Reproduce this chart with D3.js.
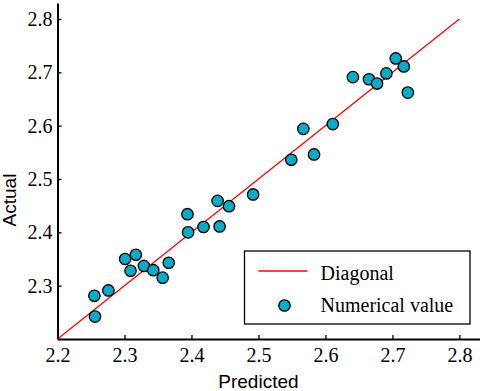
<!DOCTYPE html>
<html>
<head>
<meta charset="utf-8">
<script src="https://cdn.jsdelivr.net/npm/d3@7"></script>
<style>
  body { margin: 0; background: #fff; }
  svg { display: block; }
</style>
</head>
<body>
<svg id="chart"></svg>
<script>
// predicted vs actual
const predicted = [
  2.255, 2.256, 2.276, 2.301, 2.309, 2.317, 2.329, 2.343, 2.357, 2.366,
  2.394, 2.395, 2.418, 2.439, 2.442, 2.456,
  2.492, 2.549, 2.567, 2.583, 2.611, 2.641, 2.665, 2.677, 2.691, 2.705, 2.717, 2.723
];
const actual = [
  2.281, 2.242, 2.291, 2.350, 2.328, 2.358, 2.337, 2.329, 2.315, 2.343,
  2.434, 2.400, 2.410, 2.459, 2.411, 2.449,
  2.471, 2.536, 2.594, 2.546, 2.603, 2.691, 2.687, 2.679, 2.698, 2.726, 2.711, 2.662
];
const diagonal = [2.2, 2.8];
const xTicks = [2.2, 2.3, 2.4, 2.5, 2.6, 2.7, 2.8];
const yTicks = [2.3, 2.4, 2.5, 2.6, 2.7, 2.8];
const legendItems = ["Diagonal", "Numerical value"];

const width = 484;
const height = 391;
const margin = { top: 3, right: 4.5, bottom: 52, left: 57.5 };
const pointColor = "#0aabc6";
const serif = "'Liberation Serif', 'Times New Roman', serif";
const sans = "'Liberation Sans', Arial, sans-serif";

const svg = d3.select("#chart")
  .attr("width", width)
  .attr("height", height);

const x = d3.scaleLinear()
  .domain([2.2, 2.83])
  .range([margin.left, width - margin.right]);

const y = d3.scaleLinear()
  .domain([2.2, 2.83])
  .range([height - margin.bottom, margin.top]);

// diagonal
svg.append("line")
  .attr("x1", x(diagonal[0]))
  .attr("y1", y(diagonal[0]))
  .attr("x2", x(diagonal[1]))
  .attr("y2", y(diagonal[1]))
  .attr("stroke", "#ff0000")
  .attr("stroke-width", 1.3);

// points
svg.append("g")
  .selectAll("circle")
  .data(predicted.map((p, i) => ({ p, a: actual[i] })))
  .join("circle")
  .attr("cx", d => x(d.p))
  .attr("cy", d => y(d.a))
  .attr("r", 5.7)
  .attr("fill", pointColor)
  .attr("stroke", "#000")
  .attr("stroke-width", 1.3);

// axes
const xAxisG = svg.append("g")
  .attr("transform", `translate(0,${height - margin.bottom})`)
  .call(d3.axisBottom(x).tickValues(xTicks).tickFormat(d3.format(".1f"))
    .tickSizeInner(-4).tickSizeOuter(0).tickPadding(9));

const yAxisG = svg.append("g")
  .attr("transform", `translate(${margin.left},0)`)
  .call(d3.axisLeft(y).tickValues(yTicks).tickFormat(d3.format(".1f"))
    .tickSizeInner(-4).tickSizeOuter(0).tickPadding(5));

[xAxisG, yAxisG].forEach(g => {
  g.select(".domain").attr("stroke", "#000").attr("stroke-width", 2);
  g.selectAll(".tick line").attr("stroke", "#000").attr("stroke-width", 1.3);
  g.selectAll(".tick text")
    .attr("fill", "#000")
    .style("font-family", serif)
    .style("font-size", "20px");
});

// axis titles
svg.append("text")
  .attr("x", x(2.5))
  .attr("y", 388)
  .attr("text-anchor", "middle")
  .style("font-family", sans)
  .style("font-size", "19px")
  .text("Predicted");

svg.append("text")
  .attr("transform", "translate(16,200) rotate(-90)")
  .attr("text-anchor", "middle")
  .style("font-family", sans)
  .style("font-size", "19px")
  .text("Actual");

// legend
const legend = svg.append("g").attr("transform", "translate(244.5,251)");
legend.append("rect")
  .attr("width", 225.5)
  .attr("height", 73)
  .attr("fill", "#fff")
  .attr("stroke", "#000")
  .attr("stroke-width", 1.3);

legend.append("line")
  .attr("x1", 14).attr("x2", 63)
  .attr("y1", 20).attr("y2", 20)
  .attr("stroke", "#ff0000")
  .attr("stroke-width", 1.3);

legend.append("circle")
  .attr("cx", 40)
  .attr("cy", 54.5)
  .attr("r", 5.7)
  .attr("fill", pointColor)
  .attr("stroke", "#000")
  .attr("stroke-width", 1.3);

legend.selectAll("text.item")
  .data(legendItems)
  .join("text")
  .attr("class", "item")
  .attr("x", 76)
  .attr("y", (d, i) => 28.5 + i * 32)
  .style("font-family", serif)
  .style("font-size", "20px")
  .text(d => d);
</script>
</body>
</html>
